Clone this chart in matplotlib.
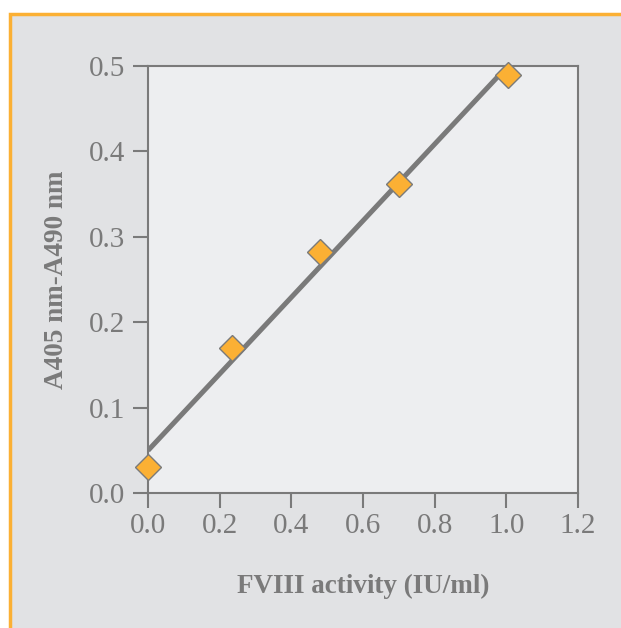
import numpy as np
import matplotlib.pyplot as plt
from matplotlib.patches import Rectangle

# FVIII activity standard curve
activity = [0.0, 0.235, 0.48, 0.70, 1.005]
absorbance = [0.03, 0.17, 0.282, 0.362, 0.49]
fit_x = [0.0, 1.0]
x_ticks = [0.0, 0.2, 0.4, 0.6, 0.8, 1.0, 1.2]
y_ticks = [0.0, 0.1, 0.2, 0.3, 0.4, 0.5]

gray = '#7a7a7a'
orange = '#fbb034'

plt.rcParams['font.family'] = ['Liberation Serif', 'DejaVu Serif']

fig = plt.figure(figsize=(6.21, 6.28), dpi=100)
fig.patch.set_facecolor('white')

# gray panel with orange frame
fig.patches.append(Rectangle((10 / 621, -0.02), 1.0, 1 - 14 / 628 + 0.02, transform=fig.transFigure,
                             facecolor='#e1e2e4', edgecolor=orange, linewidth=2.5, zorder=-1))

ax = fig.add_axes([148 / 621, 1 - 493 / 628, 430 / 621, 427 / 628])
ax.set_facecolor('#edeef0')

# linear fit through the standards
slope, intercept = np.polyfit(activity, absorbance, 1)
fit_y = [slope * x + intercept for x in fit_x]
ax.plot(fit_x, fit_y, color=gray, lw=3.6, solid_capstyle='butt', zorder=2)
ax.plot(activity, absorbance, 'D', ms=13.5, mfc=orange, mec=gray, mew=1.0, clip_on=False, zorder=3)

ax.set_xlim(0, 1.2)
ax.set_ylim(0, 0.5)
ax.set_xticks(x_ticks)
ax.set_yticks(y_ticks)
ax.set_xticklabels([f'{v:.1f}' for v in x_ticks])
ax.set_yticklabels([f'{v:.1f}' for v in y_ticks])
ax.tick_params(colors=gray, labelsize=21, length=10.5, width=1.5, direction='out')
ax.tick_params(axis='y', pad=6)
ax.tick_params(axis='x', pad=4)
for s in ax.spines.values():
    s.set_color(gray)
    s.set_linewidth(1.5)

ax.set_xlabel('FVIII activity (IU/ml)', fontsize=19.5, fontweight='bold', color=gray, labelpad=25)
ax.set_ylabel('A405 nm-A490 nm', fontsize=19.5, fontweight='bold', color=gray, labelpad=14)

fig.savefig('out.png', dpi=100)
